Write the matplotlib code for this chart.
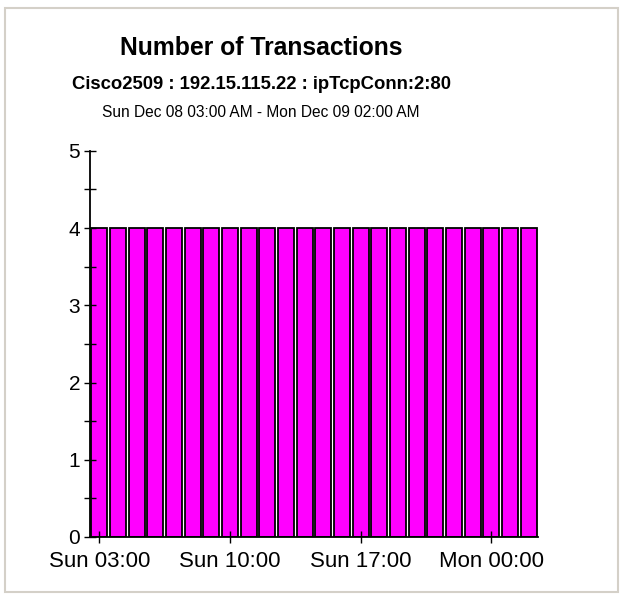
import numpy as np
import matplotlib
matplotlib.use('Agg')
import matplotlib.pyplot as plt
from matplotlib.patches import Rectangle

plt.rcParams['font.family'] = ['Liberation Sans', 'DejaVu Sans']

#  data: one bar per hour, Sun 03:00 .. Mon 02:00
hours = ['Sun 03:00', 'Sun 04:00', 'Sun 05:00', 'Sun 06:00', 'Sun 07:00', 'Sun 08:00',
         'Sun 09:00', 'Sun 10:00', 'Sun 11:00', 'Sun 12:00', 'Sun 13:00', 'Sun 14:00',
         'Sun 15:00', 'Sun 16:00', 'Sun 17:00', 'Sun 18:00', 'Sun 19:00', 'Sun 20:00',
         'Sun 21:00', 'Sun 22:00', 'Sun 23:00', 'Mon 00:00', 'Mon 01:00', 'Mon 02:00']
transactions = [4, 4, 4, 4, 4, 4, 4, 4, 4, 4, 4, 4,
                4, 4, 4, 4, 4, 4, 4, 4, 4, 4, 4, 4]
shown_labels = ['Sun 03:00', 'Sun 10:00', 'Sun 17:00', 'Mon 00:00']

title = 'Number of Transactions'
subtitle = 'Cisco2509 : 192.15.115.22 : ipTcpConn:2:80'
period = 'Sun Dec 08 03:00 AM - Mon Dec 09 02:00 AM'


fig = plt.figure(figsize=(6.2, 5.94), dpi=100)
fig.patch.set_facecolor('white')

#  light grey frame around the chart
fig.patches.append(Rectangle((5 / 620, 2 / 594), 613 / 620, 584 / 594,
                             transform=fig.transFigure, fill=False,
                             edgecolor='#d4d0c8', linewidth=1.5))

ax = fig.add_axes([0.145, 0.096, 0.723, 0.65])

x = np.arange(len(hours))
ax.bar(x, transactions, width=0.86, color='#ff00ff', edgecolor='black', linewidth=1.3)

ax.set_xlim(-0.5, len(hours) - 0.5)
ax.set_ylim(0, 5)

ax.set_yticks([0, 1, 2, 3, 4, 5])
ax.set_yticks(np.arange(0.5, 5, 1), minor=True)
tick_pos = [hours.index(h) for h in shown_labels]
ax.set_xticks(tick_pos)
ax.set_xticklabels(shown_labels)

ax.tick_params(axis='y', which='major', direction='inout', length=8, width=1, labelsize=15, pad=3)
ax.tick_params(axis='y', which='minor', direction='inout', length=8, width=1)
ax.tick_params(axis='x', which='major', direction='inout', length=8, width=1, labelsize=16, pad=6)

for side in ['top', 'right']:
    ax.spines[side].set_visible(False)
for side in ['left', 'bottom']:
    ax.spines[side].set_linewidth(1.3)

#  titles sit a bit left of the plot centre, as in the original
tx = 261 / 620
fig.text(tx, 0.919, title, ha='center', va='center', fontsize=17.8, weight='bold')
fig.text(tx, 0.857, subtitle, ha='center', va='center', fontsize=13.3, weight='bold')
fig.text(tx, 0.810, period, ha='center', va='center', fontsize=11.2)

plt.savefig('out.png', dpi=100)
